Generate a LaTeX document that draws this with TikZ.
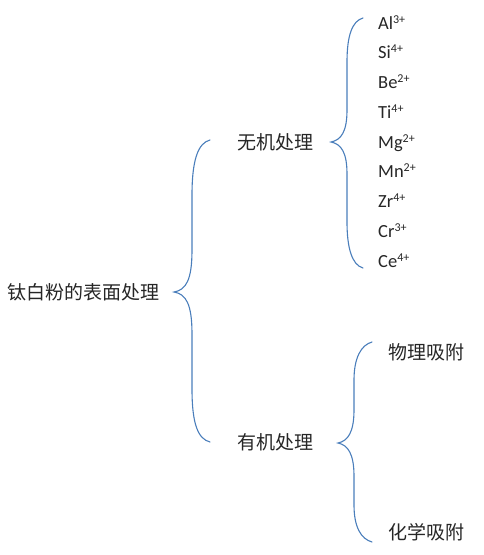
\documentclass[tikz,border=0pt]{standalone}
\usepackage{fontspec}
\setmainfont{Carlito}
\newfontfamily\cjk{Noto Sans CJK SC}
\definecolor{bracecol}{HTML}{4A7EBB}
\newcommand{\ionsup}[1]{\raisebox{5.8pt}{\fontsize{12}{12}\selectfont #1}}
\begin{document}
\begin{tikzpicture}[x=1pt,y=-1pt,
  cn/.style={font=\cjk\fontsize{19}{19}\selectfont, anchor=west, inner sep=0pt, text=black!85},
  ion/.style={font=\fontsize{18.5}{18.5}\selectfont, anchor=base west, inner sep=0pt, text=black!85},
  brace/.style={draw=bracecol, line width=1.1pt, line cap=round}]
\useasboundingbox (0,0) rectangle (484,555);
% texts
\node[cn] (root) at (7,292) {钛白粉的表面处理};
\node[cn] (inorg) at (237,142) {无机处理};
\node[cn] (org) at (237,442) {有机处理};
\node[cn] (phys) at (388,352) {物理吸附};
\node[cn] (chem) at (388,532) {化学吸附};
\node[ion] (al) at (378,29.0) {Al\ionsup{3+}};
\node[ion] (si) at (378,58.75) {Si\ionsup{4+}};
\node[ion] (be) at (378,88.5) {Be\ionsup{2+}};
\node[ion] (ti) at (378,118.25) {Ti\ionsup{4+}};
\node[ion] (mg) at (378,148.0) {Mg\ionsup{2+}};
\node[ion] (mn) at (378,177.75) {Mn\ionsup{2+}};
\node[ion] (zr) at (378,207.5) {Zr\ionsup{4+}};
\node[ion] (cr) at (378,237.25) {Cr\ionsup{3+}};
\node[ion] (ce) at (378,267.0) {Ce\ionsup{4+}};
% brace anchor points
\coordinate (b1t) at (210,140);
\coordinate (b1m) at (174,292);
\coordinate (b1b) at (210,442);
\coordinate (b2t) at (363,18);
\coordinate (b2m) at (331,142);
\coordinate (b2b) at (363,268);
\coordinate (b3t) at (372,342);
\coordinate (b3m) at (338,443);
\coordinate (b3b) at (372,542);
% main brace
\draw[brace] (b1t) .. controls (198,143) and (192,160) .. (192,195)
  -- (192,250) .. controls (192,280) and (186,290) .. (b1m)
  .. controls (186,294) and (192,304) .. (192,334)
  -- (192,389) .. controls (192,424) and (198,439) .. (b1b);
% inorganic brace
\draw[brace] (b2t) .. controls (352,21) and (347,36) .. (347,62)
  -- (347,110) .. controls (347,132) and (341,140) .. (b2m)
  .. controls (341,144) and (347,152) .. (347,174)
  -- (347,222) .. controls (347,248) and (352,265) .. (b2b);
% organic brace
\draw[brace] (b3t) .. controls (361,345) and (354,358) .. (354,380)
  -- (354,410) .. controls (354,432) and (348,441) .. (b3m)
  .. controls (348,445) and (354,454) .. (354,476)
  -- (354,505) .. controls (354,527) and (361,539) .. (b3b);
\end{tikzpicture}
\end{document}
